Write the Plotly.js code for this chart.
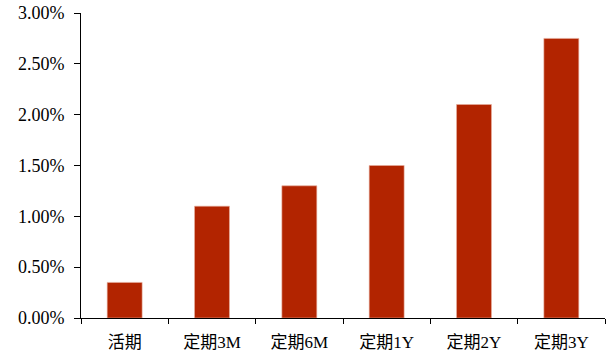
<!DOCTYPE html>
<html>
<head>
<meta charset="utf-8">
<script src="https://cdn.plot.ly/plotly-3.0.1.min.js"></script>
<style>html,body{margin:0;padding:0;background:#fff;}#chart{width:611px;height:360px;}</style>
</head>
<body>
<div id="chart"></div>
<script>
var categories = ["活期", "定期3M", "定期6M", "定期1Y", "定期2Y", "定期3Y"];
var rates = [0.0035, 0.011, 0.013, 0.015, 0.021, 0.0275];
var yTicks = [0, 0.005, 0.01, 0.015, 0.02, 0.025, 0.03];

var fontFam = "'Liberation Serif', 'Times New Roman', 'Noto Sans CJK SC', serif";

Plotly.newPlot('chart', [{
  type: 'bar',
  x: categories,
  y: rates,
  marker: {color: '#B22400', line: {color: '#E8B0A0', width: 0.6}},
  hoverinfo: 'none'
}], {
  width: 611, height: 360,
  margin: {l: 81, r: 6, t: 13, b: 42},
  paper_bgcolor: '#fff', plot_bgcolor: '#fff',
  bargap: 0.6,
  showlegend: false,
  font: {family: fontFam, size: 18, color: '#000'},
  xaxis: {
    type: 'category',
    showline: true, linecolor: '#000', linewidth: 1,
    ticks: 'outside', tickson: 'boundaries', ticklen: 5, tickcolor: '#000',
    showgrid: false, zeroline: false,
    ticklabelstandoff: 9,
    tickfont: {family: fontFam, size: 17}
  },
  yaxis: {
    range: [0, 0.03],
    tickvals: yTicks,
    tickformat: '.2%',
    showline: true, linecolor: '#000', linewidth: 1,
    ticks: 'outside', ticklen: 6, tickcolor: '#000',
    showgrid: false, zeroline: false,
    ticklabelstandoff: 6,
    tickfont: {family: fontFam, size: 18}
  }
}, {staticPlot: true});
</script>
</body>
</html>
